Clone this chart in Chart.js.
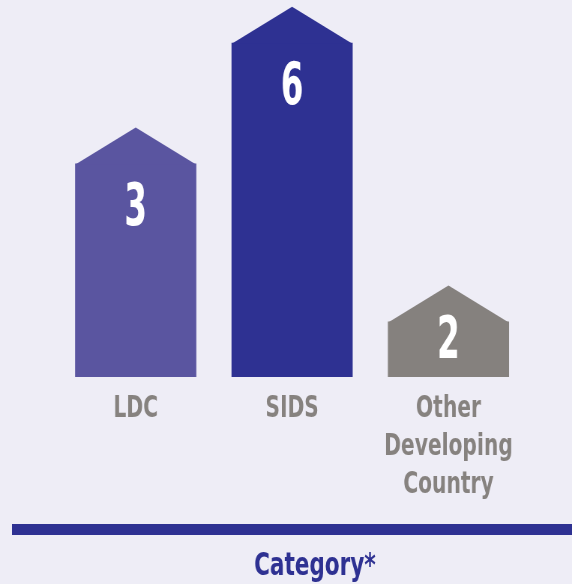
<!DOCTYPE html>
<html>
<head>
<meta charset="utf-8">
<script src="https://cdn.jsdelivr.net/npm/chart.js@4/dist/chart.umd.min.js"></script>
<style>
  html, body { margin: 0; padding: 0; background: #eeedf6; overflow: hidden; }
  /* the chart is drawn 4/3 wider and squeezed back to 572px: gives the condensed lettering */
  #myChart { display: block; width: 572px !important; height: 584px !important; }
</style>
</head>
<body>
<canvas id="myChart" width="763" height="584"></canvas>
<script>
const categories = [["LDC"], ["SIDS"], ["Other", "Developing", "Country"]];
const counts = [3, 6, 2];
// height each bar body is drawn at (the infographic is not to scale)
const barLevels = [3.83, 6, 0.99];
const barColors = ["#5a55a0", "#2e3192", "#85817e"];

const FONT = "'DejaVu Sans Condensed', 'DejaVu Sans', sans-serif";
const ROOF = 36.5;

// roof on top of each bar + the count inside it
const housePlugin = {
  id: "house",
  afterDatasetsDraw(chart) {
    const ctx = chart.ctx;
    chart.getDatasetMeta(0).data.forEach((bar, i) => {
      const half = bar.width / 2;
      ctx.save();
      ctx.fillStyle = barColors[i];
      ctx.beginPath();
      ctx.moveTo(bar.x - half, bar.y + 0.5);
      ctx.lineTo(bar.x, bar.y - ROOF);
      ctx.lineTo(bar.x + half, bar.y + 0.5);
      ctx.closePath();
      ctx.fill();

      const base = Math.min(bar.y + 61, bar.base - 19);
      ctx.translate(bar.x, base);
      ctx.scale(0.82, 1);
      ctx.fillStyle = "#ffffff";
      ctx.font = "bold 59px " + FONT;
      ctx.textAlign = "center";
      ctx.textBaseline = "alphabetic";
      ctx.fillText(String(counts[i]), 0, 0);
      ctx.restore();
    });
  }
};

// the bottom rule runs off the right edge, so its title sits right of centre
const ruleAxisPlugin = {
  id: "ruleAxis",
  afterLayout(chart) {
    const s = chart.scales.x2;
    s.right = chart.width + 56;
    s.width = s.right - s.left;
  }
};

const ctx = document.getElementById("myChart").getContext("2d");
new Chart(ctx, {
  type: "bar",
  data: {
    datasets: [{
      data: barLevels.map((v, i) => ({ x: i, y: v })),
      backgroundColor: barColors,
      borderWidth: 0,
      barThickness: 161
    }]
  },
  options: {
    responsive: false,
    animation: false,
    layout: { padding: { top: 7, left: 21, right: 0, bottom: 0 } },
    plugins: {
      legend: { display: false },
      tooltip: { enabled: false }
    },
    scales: {
      y: { display: false, min: 0, max: 6.65 },
      x: {
        type: "linear",
        position: "bottom",
        weight: 0,
        offset: false,
        min: -0.767,
        max: 2.79,
        grid: { display: false, drawTicks: false, offset: false },
        border: { display: false },
        afterBuildTicks: (scale) => {
          scale.ticks = categories.map((c, i) => ({ value: i }));
        },
        ticks: {
          autoSkip: false,
          maxRotation: 0,
          padding: 13,
          color: "#86827f",
          font: { family: FONT, size: 30, weight: "bold", lineHeight: 1.27 },
          callback: (v) => categories[v]
        },
        afterFit: (scale) => { scale.height = 152; }
      },
      x2: {
        type: "linear",
        position: "bottom",
        weight: 1,
        display: true,
        offset: false,
        min: 0,
        max: 1,
        grid: { color: "rgba(0,0,0,0)", drawTicks: false, drawOnChartArea: false },
        border: { display: true, color: "#2e3192", width: 11 },
        ticks: { display: false },
        title: {
          display: true,
          text: "Category*",
          color: "#2e3192",
          font: { family: FONT, size: 32, weight: "bold", lineHeight: 1.1 },
          padding: { top: 0, bottom: 0 }
        },
        afterFit: (scale) => { scale.height = 55; }
      }
    }
  },
  plugins: [housePlugin, ruleAxisPlugin]
});
</script>
</body>
</html>
